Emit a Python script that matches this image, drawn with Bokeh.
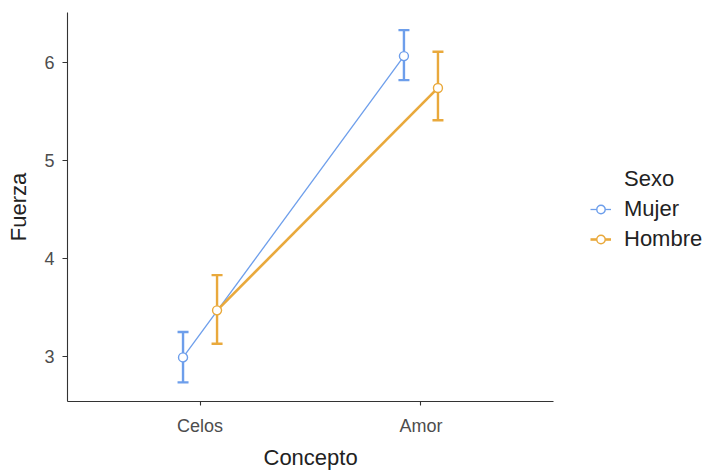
from bokeh.plotting import figure
from bokeh.models import (ColumnDataSource, Range1d, FixedTicker, Whisker, TeeHead,
                          Legend, LegendItem, Title)
from bokeh.transform import dodge
from bokeh.embed import file_html
from bokeh.resources import INLINE

# ---- data ----
concepto = ["Celos", "Amor"]
sexo = ["Mujer", "Hombre"]
mujer_mean = [2.99, 6.065]
mujer_low = [2.735, 5.82]
mujer_high = [3.25, 6.33]
hombre_mean = [3.47, 5.74]
hombre_low = [3.13, 5.41]
hombre_high = [3.83, 6.11]
legend_title = "Sexo"
x_title = "Concepto"
y_title = "Fuerza"

colors = {"Mujer": "#6D9EEB", "Hombre": "#E9A93C"}
line_widths = {"Mujer": 1.3, "Hombre": 2.6}
offsets = {"Mujer": -0.077, "Hombre": 0.077}

FONT = "Liberation Sans"

# x axis spans 0.4 .. 2.6 over 486 px; frame is extended to the right to host the legend
X0, X1 = 0.4, 2.6
FRAME_W = 705 - 67
x_end = X0 + (X1 - X0) * FRAME_W / 486

p = figure(width=705, height=473, output_backend="svg", toolbar_location=None,
           x_range=Range1d(X0, x_end), y_range=Range1d(2.54, 6.51),
           min_border_left=67, min_border_right=0, min_border_top=12, min_border_bottom=71)

p.background_fill_color = "white"
p.border_fill_color = "white"
p.outline_line_color = None
p.xgrid.visible = False
p.ygrid.visible = False

pos = [i + 1 for i in range(len(concepto))]

series = {
    "Mujer": (mujer_mean, mujer_low, mujer_high),
    "Hombre": (hombre_mean, hombre_low, hombre_high),
}

items = [LegendItem(label=legend_title, renderers=[])]
for s in sexo:
    m, lo, hi = series[s]
    src = ColumnDataSource(dict(x=pos, y=m, lower=lo, upper=hi))
    xs = dodge("x", offsets[s])
    c = colors[s]
    w = Whisker(source=src, base=xs, lower="lower", upper="upper", dimension="height",
                line_color=c, line_width=2.4,
                upper_head=TeeHead(size=11, line_color=c, line_width=2.4),
                lower_head=TeeHead(size=11, line_color=c, line_width=2.4))
    p.add_layout(w)
    lr = p.line(x=xs, y="y", source=src, line_color=c, line_width=line_widths[s])
    sr = p.scatter(x=xs, y="y", source=src, size=9, marker="circle",
                   fill_color="white", line_color=c, line_width=1.4)
    items.append(LegendItem(label=s, renderers=[lr, sr]))

# axes
p.xaxis.ticker = FixedTicker(ticks=pos)
p.xaxis.major_label_overrides = {i + 1: c for i, c in enumerate(concepto)}
p.xaxis.bounds = (X0, X1)
p.yaxis.ticker = FixedTicker(ticks=[3, 4, 5, 6])

for ax in (p.xaxis, p.yaxis):
    ax.axis_line_color = "#333333"
    ax.axis_line_width = 1.1
    ax.major_tick_line_color = "#333333"
    ax.major_tick_line_width = 1.1
    ax.major_tick_in = 0
    ax.minor_tick_line_color = None
    ax.major_label_text_font = FONT
    ax.major_label_text_font_size = "18px"
    ax.major_label_text_color = "#4D4D4D"
    ax.axis_label_text_font = FONT
    ax.axis_label_text_font_size = "22px"
    ax.axis_label_text_font_style = "normal"
    ax.axis_label_text_color = "#222222"

p.yaxis.axis_label = y_title
p.xaxis.major_tick_out = 4
p.yaxis.major_tick_out = 5
p.xaxis.major_label_standoff = 10
p.yaxis.major_label_standoff = 8
p.yaxis.axis_label_standoff = 10

# x axis title, centred under the 486 px wide axis (not under the extended frame)
p.add_layout(Title(text=x_title, align="left", offset=196, standoff=8,
                   text_font=FONT, text_font_size="22px", text_font_style="normal",
                   text_color="#222222"), "below")

legend = Legend(items=items, location=(523, 149), orientation="vertical",
                glyph_width=21, glyph_height=24, label_height=24, label_standoff=13, spacing=4,
                padding=0, margin=0, border_line_color=None, background_fill_alpha=0,
                label_text_font=FONT, label_text_font_size="22px",
                label_text_color="#222222")
p.add_layout(legend)

open("out.html", "w").write(file_html(p, INLINE))
